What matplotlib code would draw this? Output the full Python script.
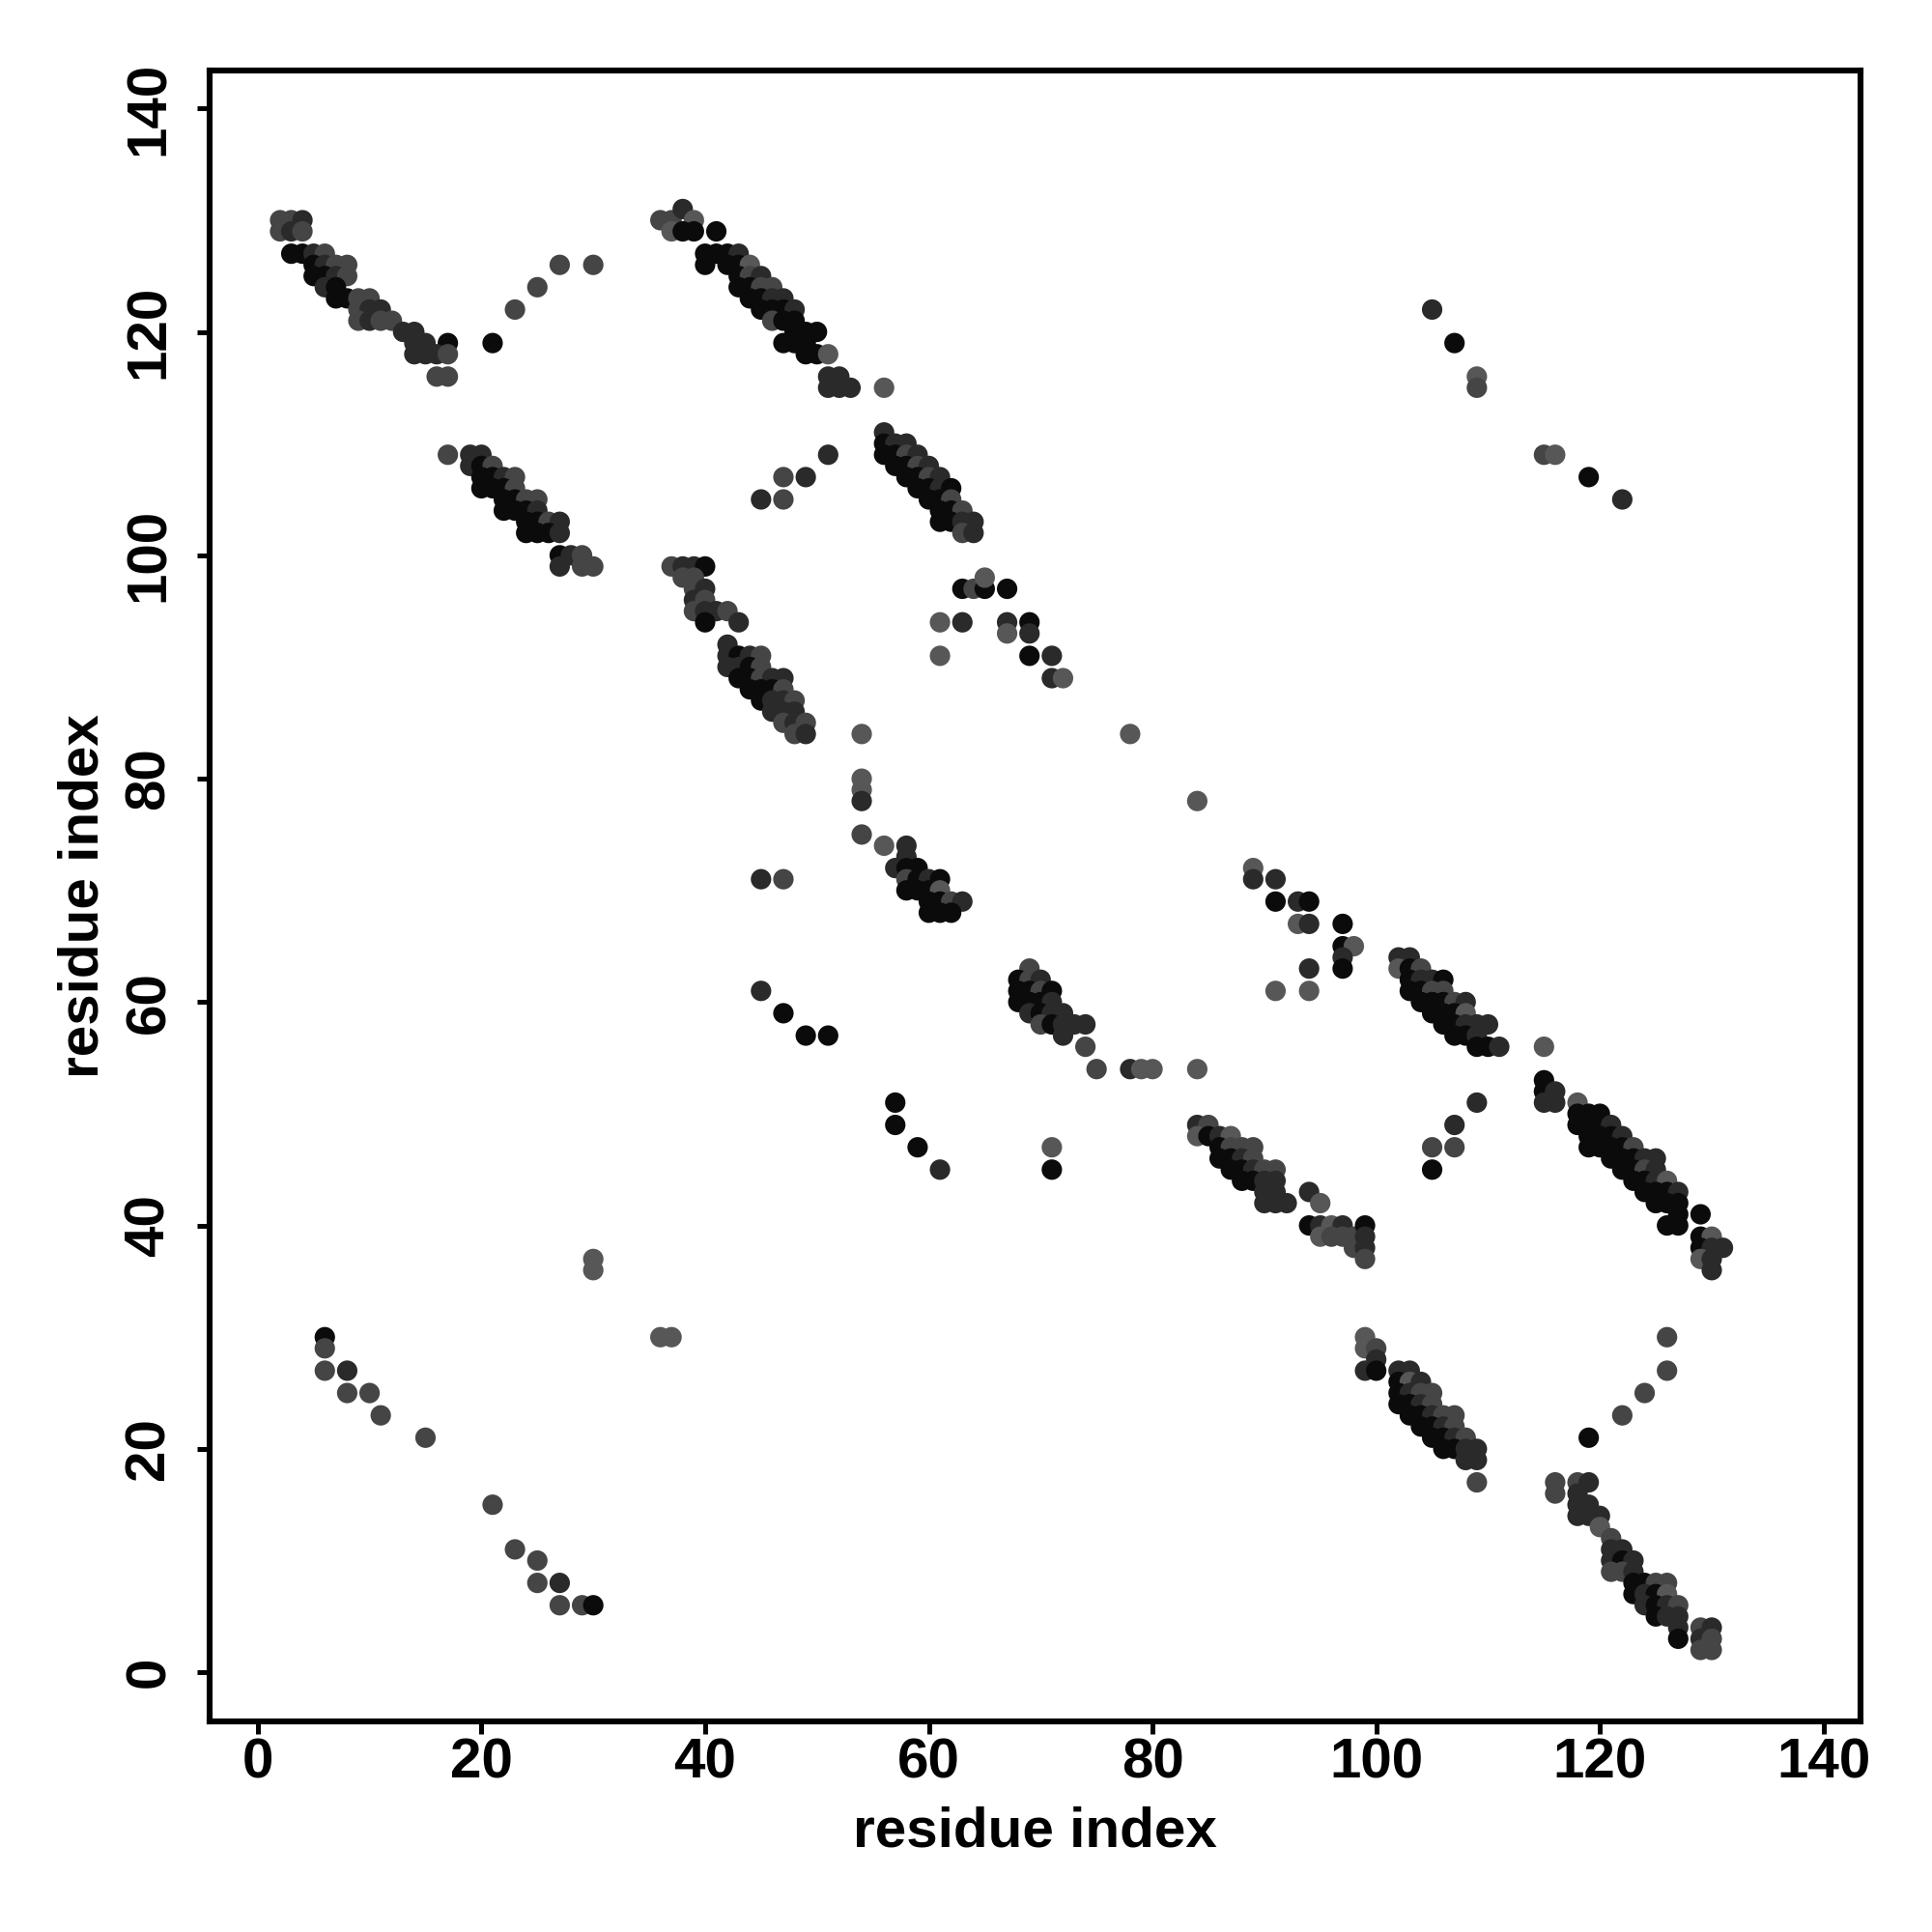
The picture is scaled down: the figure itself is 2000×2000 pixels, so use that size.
import matplotlib
matplotlib.use("Agg")
import matplotlib.pyplot as plt

# contact points: (residue i, residue j, shade class 0=black .. 3=light grey)
band_a = [(2,130,2),(3,130,2),(4,130,1),(2,129,2),(3,129,1),(4,129,2),
          (3,127,0),(4,127,0),(5,127,1),(6,127,2),
          (5,126,0),(6,126,1),(7,126,2),(8,126,2),
          (5,125,0),(6,125,0),(7,125,1),(8,125,2),
          (6,124,1),(7,124,0),
          (7,123,0),(8,123,0),(9,123,2),(10,123,2),
          (9,122,2),(10,122,1),(11,122,1),
          (9,121,2),(10,121,1),(11,121,2),(12,121,2),
          (13,120,1),(14,120,1),
          (14,119,1),(15,119,1),(17,119,0),
          (14,118,1),(15,118,1),(16,118,1),(17,118,2),
          (16,116,2),(17,116,2),
          (21,119,0),(23,122,2),(25,124,2),(27,126,2),(30,126,2)]

band_b = [(17,109,2),(19,109,1),(20,109,1),
          (19,108,1),(20,108,0),(21,108,2),
          (20,107,0),(21,107,0),(22,107,1),(23,107,2),
          (20,106,0),(21,106,0),(22,106,0),(23,106,2),
          (22,105,0),(23,105,0),(24,105,2),(25,105,2),
          (22,104,0),(23,104,0),(24,104,0),(25,104,1),
          (24,103,0),(25,103,0),(26,103,2),(27,103,1),
          (24,102,0),(25,102,0),(26,102,0),(27,102,1),
          (27,100,0),(28,100,1),(29,100,2),
          (27,99,1),(29,99,2),(30,99,2)]

band_c = [(36,130,2),(37,130,2),(38,131,1),(39,130,3),(37,129,3),(38,129,0),(39,129,0),(41,129,0),
          (40,127,0),(41,127,0),(42,127,0),(43,127,1),
          (40,126,0),(42,126,0),(43,126,0),(44,126,3),
          (43,125,0),(44,125,2),(45,125,1),
          (43,124,0),(44,124,0),(45,124,2),(46,124,2),
          (44,123,0),(45,123,0),(46,123,1),(47,123,1),
          (45,122,0),(46,122,0),(47,122,0),(48,122,1),
          (46,121,2),(47,121,0),(48,121,0),
          (48,120,0),(49,120,0),(50,120,0),
          (47,119,0),(48,119,0),(49,119,0),
          (49,118,0),(50,118,0),(51,118,3),
          (51,116,1),(52,116,1),
          (51,115,1),(52,115,1),(53,115,1),(56,115,3),
          (51,109,1),(47,107,2),(49,107,1),(45,105,1),(47,105,2)]

band_e = [(56,111,1),
          (56,110,0),(57,110,1),(58,110,1),
          (56,109,0),(57,109,0),(58,109,2),(59,109,1),
          (57,108,0),(58,108,0),(59,108,2),(60,108,1),
          (58,107,0),(59,107,0),(60,107,2),(61,107,1),
          (59,106,0),(60,106,0),(61,106,1),(62,106,0),
          (60,105,0),(61,105,0),(62,105,2),
          (61,104,0),(62,104,0),(63,104,2),
          (61,103,0),(62,103,0),(63,103,1),(64,103,1),
          (63,102,2),(64,102,1)]

band_f = [(37,99,2),(38,99,1),(39,99,1),(40,99,0),
          (38,98,2),(39,98,2),
          (39,97,2),(40,97,1),
          (39,96,1),(40,96,2),
          (39,95,2),(40,95,1),(41,95,1),(42,95,2),
          (40,94,0),(43,94,1),
          (42,92,1),
          (42,91,1),(43,91,0),(44,91,1),(45,91,2),
          (42,90,1),(43,90,1),(44,90,0),(45,90,2),
          (43,89,0),(44,89,0),(45,89,2),(46,89,1),(47,89,1),
          (44,88,0),(45,88,0),(46,88,0),(47,88,2),
          (45,87,0),(46,87,1),(47,87,1),(48,87,2),
          (46,86,1),(47,86,1),(48,86,1),
          (47,85,2),(48,85,1),(49,85,2),
          (48,84,2),(49,84,1)]

band_i = [(54,84,3),(54,80,3),(54,79,3),(54,78,1),(54,75,2),(56,74,3),
          (58,74,1),(58,73,1),(57,72,1),(58,72,0),(59,72,0),
          (58,71,2),(59,71,0),(60,71,1),(61,71,0),
          (58,70,0),(59,70,0),(60,70,0),(61,70,3),
          (60,69,0),(61,69,0),(62,69,2),(63,69,1),
          (60,68,0),(61,68,0),(62,68,0),
          (45,71,1),(47,71,2),
          (45,61,1),(47,59,0),(49,57,0),(51,57,0),
          (57,51,0),(57,49,0),(59,47,0),(61,45,1),
          (71,47,3),(71,45,0)]

band_k = [(63,97,0),(64,97,2),(65,97,0),(65,98,3),(67,97,0),
          (61,94,3),(63,94,1),(67,94,1),(69,94,0),(67,93,3),(69,93,1),
          (61,91,3),(69,91,0),(71,91,1),(71,89,1),(72,89,3),
          (69,63,2),(68,62,0),(69,62,2),(70,62,1),
          (68,61,0),(69,61,0),(70,61,2),(71,61,0),
          (68,60,0),(69,60,0),(70,60,0),(71,60,1),
          (69,59,1),(70,59,0),(71,59,1),(72,59,1),
          (70,58,2),(71,58,0),(72,58,1),(73,58,1),(74,58,1),
          (72,57,1),(74,56,2),(75,54,2),
          (78,54,1),(79,54,3),(80,54,3),(84,54,3),(78,84,3),(84,78,3)]

band_n = [(89,72,3),(89,71,1),(91,71,1),(91,69,0),(93,69,1),(94,69,0),
          (93,67,3),(94,67,1),(97,67,0),(97,65,0),(98,65,3),(97,64,1),(97,63,0),
          (94,63,1),(91,61,3),(94,61,3),
          (84,49,1),(85,49,2),(84,48,3),(85,48,0),(86,48,1),(87,48,3),
          (86,47,0),(87,47,2),(88,47,2),(89,47,2),
          (86,46,0),(87,46,0),(88,46,1),(89,46,2),
          (87,45,0),(88,45,0),(89,45,1),(90,45,2),(91,45,2),
          (88,44,0),(89,44,0),(90,44,1),(91,44,1),
          (90,43,1),(91,43,1),(90,42,1),(91,42,1),(92,42,1),
          (94,43,1),(95,42,3),(94,40,0),(95,40,1),(96,40,3),(97,40,1),
          (95,39,3),(96,39,2),(97,39,2),(98,39,2),(98,38,2),
          (99,40,0),(99,39,1),(99,38,1),(99,37,2)]

band_q = [(102,64,1),(103,64,1),(102,63,3),(103,63,0),(104,63,2),
          (103,62,0),(104,62,1),(105,62,1),(106,62,0),
          (103,61,0),(104,61,0),(105,61,2),(106,61,2),
          (104,60,0),(105,60,0),(106,60,0),(107,60,2),(108,60,1),
          (105,59,0),(106,59,0),(107,59,0),(108,59,3),
          (106,58,0),(107,58,0),(108,58,1),(109,58,1),(110,58,1),
          (107,57,0),(108,57,0),(109,57,1),
          (109,56,0),(110,56,0),(111,56,1),
          (115,56,3),(115,53,0),(115,52,0),(116,52,1),(115,51,1),(116,51,1),
          (109,51,1),(107,49,1),(107,47,2),(105,47,2),(105,45,0)]

band_s = [(118,51,3),(118,50,0),(119,50,0),(120,50,0),
          (118,49,0),(119,49,0),(120,49,0),(121,49,1),
          (119,48,0),(120,48,0),(121,48,0),(122,48,1),
          (119,47,0),(120,47,0),(121,47,0),(122,47,0),(123,47,2),
          (121,46,0),(122,46,0),(123,46,0),(124,46,1),(125,46,1),
          (122,45,0),(123,45,0),(124,45,2),(125,45,1),
          (123,44,0),(124,44,0),(125,44,1),(126,44,3),
          (124,43,0),(125,43,0),(126,43,0),(127,43,1),
          (125,42,0),(126,42,0),(127,42,0),
          (127,41,0),(126,40,0),(127,40,0),(129,41,0),
          (129,39,0),(130,39,3),(129,38,0),(130,38,1),(131,38,1),
          (129,37,3),(130,37,1),(130,36,1)]

band_u = [(99,30,3),(99,29,3),(100,29,2),(100,28,1),(99,27,1),(100,27,0),
          (102,27,1),(103,27,1),(102,26,0),(103,26,3),(104,26,1),
          (102,25,0),(103,25,1),(104,25,2),(105,25,2),
          (102,24,0),(103,24,0),(104,24,1),(105,24,2),
          (103,23,0),(104,23,0),(105,23,1),(106,23,2),(107,23,2),
          (104,22,0),(105,22,0),(106,22,1),(107,22,2),
          (105,21,0),(106,21,0),(107,21,1),(108,21,2),
          (106,20,0),(107,20,0),(108,20,1),(109,20,1),
          (108,19,1),(109,19,1),(109,17,2),
          (126,30,2),(126,27,2),(124,25,2),(122,23,2),(119,21,0)]

band_v = [(116,17,2),(116,16,2),(118,17,2),(119,17,1),
          (118,16,1),(118,15,1),(119,15,1),
          (118,14,1),(119,14,1),(120,14,1),(120,13,3),
          (121,12,2),(121,11,1),(122,11,1),
          (121,10,1),(122,10,0),(123,10,1),
          (121,9,2),(122,9,2),(123,9,1),
          (123,8,0),(124,8,0),(125,8,2),(126,8,2),
          (123,7,0),(124,7,1),(125,7,0),(126,7,3),
          (124,6,1),(125,6,0),(126,6,1),(127,6,2),
          (125,5,0),(126,5,1),(127,5,1),
          (127,4,1),(127,3,0),
          (129,4,2),(130,4,1),(129,3,1),(130,3,2),(129,2,2),(130,2,2)]

band_w = [(30,37,3),(30,36,3),(6,30,0),(6,29,2),(6,27,2),(8,27,1),(8,25,2),(10,25,2),
          (11,23,2),(15,21,2),(21,15,2),(23,11,2),(25,10,2),(25,8,2),(27,8,1),
          (27,6,2),(29,6,2),(30,6,0),(36,30,3),(37,30,3),
          (105,122,1),(107,119,0),(109,116,3),(109,115,2),
          (115,109,2),(116,109,3),(119,107,0),(122,105,1)]

shade_colors = ["#0b0b0b", "#2a2a2a", "#454545", "#575757"]
ticks = [0, 20, 40, 60, 80, 100, 120, 140]

plt.rcParams["font.family"] = ["Liberation Sans", "DejaVu Sans"]
plt.rcParams["font.weight"] = "bold"

points = (band_a + band_b + band_c + band_e + band_f + band_i + band_k +
          band_n + band_q + band_s + band_u + band_v + band_w)
xs = [p[0] for p in points]
ys = [p[1] for p in points]
cs = [shade_colors[p[2]] for p in points]

fig = plt.figure(figsize=(10, 10), dpi=200)
ax = fig.add_axes([0.1085, 0.109, 0.8545, 0.8545])
ax.scatter(xs, ys, s=58, c=cs, linewidths=0)

ax.set_xlim(-4.3, 143.3)
ax.set_ylim(-4.4, 143.4)
ax.set_xticks(ticks)
ax.set_yticks(ticks)
for sp in ax.spines.values():
    sp.set_linewidth(2.2)
ax.tick_params(length=4.6, width=1.8, labelsize=21)
ax.tick_params(axis="x", pad=1.5)
ax.tick_params(axis="y", pad=8, labelrotation=90)
for lab in ax.get_yticklabels():
    lab.set_va("center")
    lab.set_fontweight("bold")
for lab in ax.get_xticklabels():
    lab.set_fontweight("bold")

fig.text(0.5357, 0.0445, "residue index", ha="center", va="baseline",
         fontsize=21, fontweight="bold")
fig.text(0.051, 0.536, "residue index", ha="center", va="baseline",
         rotation=90, rotation_mode="anchor", fontsize=21, fontweight="bold")

fig.savefig("out.png", dpi=200)
